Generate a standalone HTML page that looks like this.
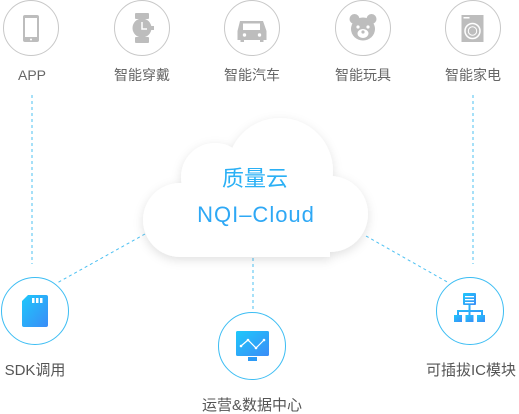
<!DOCTYPE html>
<html><head><meta charset="utf-8"><style>
html,body{margin:0;padding:0;background:#fff;width:519px;height:414px;overflow:hidden}
svg{display:block}
text{font-family:"Liberation Sans","Noto Sans CJK SC",sans-serif}
</style></head><body>
<svg width="519" height="414" viewBox="0 0 519 414" xmlns="http://www.w3.org/2000/svg">
<defs>
<linearGradient id="bg" x1="0" y1="0" x2="1" y2="1"><stop offset="0" stop-color="#1ec8fb"/><stop offset="1" stop-color="#3a8cf7"/></linearGradient>
<filter id="sh" x="-20%" y="-20%" width="140%" height="150%"><feDropShadow dx="0" dy="3" stdDeviation="5" flood-color="#000" flood-opacity="0.12"/></filter>
</defs>
<g fill="none" stroke="#c8c8c8" stroke-width="1">
<circle cx="31" cy="28" r="27.5"/><circle cx="142" cy="28" r="27.5"/><circle cx="252" cy="28" r="27.5"/><circle cx="363" cy="28" r="27.5"/><circle cx="473" cy="28" r="27.5"/>
</g>
<g fill="#bdbdbd">
<rect x="23" y="15" width="16" height="27" rx="2"/><rect x="25" y="18" width="12" height="19" fill="#fff"/><circle cx="31" cy="39.5" r="1" fill="#fff"/>
<rect x="135" y="13" width="14" height="6" rx="1"/><rect x="135" y="37" width="14" height="6" rx="1"/><circle cx="142" cy="28" r="9.5"/><rect x="150" y="26" width="4" height="4"/><path d="M142 22v7h5" stroke="#fff" stroke-width="1.5" fill="none"/>
<path d="M240 21h23l3.5 10v9h-3v2h-3.5v-2h-16v2h-3.5v-2h-3v-9z"/><rect x="243" y="23.5" width="17" height="6.5" fill="#fff"/><circle cx="244.5" cy="35" r="1.7" fill="#fff"/><circle cx="259.5" cy="35" r="1.7" fill="#fff"/>
<circle cx="354.5" cy="19" r="5"/><circle cx="371.5" cy="19" r="5"/><ellipse cx="363" cy="29" rx="12" ry="11.5"/><ellipse cx="363" cy="33.5" rx="5.5" ry="4.5" fill="#fff"/><circle cx="358" cy="27" r="1.6" fill="#fff"/><circle cx="368" cy="27" r="1.6" fill="#fff"/><circle cx="363" cy="32" r="1.6"/>
<rect x="461.5" y="15" width="22" height="27"/><circle cx="472.5" cy="31" r="7.5" fill="none" stroke="#fff" stroke-width="1.5"/><circle cx="472.5" cy="31" r="4.2" fill="none" stroke="#fff" stroke-width="1"/><rect x="463.5" y="17" width="6" height="1.5" fill="#fff"/>
</g>
<g fill="#666" font-size="14" text-anchor="middle">
<text x="32" y="80">APP</text><text x="142" y="80">智能穿戴</text><text x="252" y="80">智能汽车</text><text x="363" y="80">智能玩具</text><text x="473" y="80">智能家电</text>
</g>
<g stroke="#4cc0f2" stroke-width="1" stroke-dasharray="3,3" fill="none">
<line x1="32" y1="95" x2="32" y2="264"/><line x1="473" y1="95" x2="473" y2="264"/>
<line x1="145" y1="234" x2="57" y2="283"/><line x1="253" y1="258" x2="253" y2="311"/><line x1="366" y1="236" x2="449" y2="283"/>
</g>
<g fill="#fff" filter="url(#sh)">
<circle cx="280" cy="171" r="53"/><circle cx="215" cy="177" r="34"/><circle cx="180" cy="220" r="37"/><circle cx="330" cy="214" r="38"/><rect x="180" y="200" width="150" height="57"/>
</g>
<text x="255" y="186" font-size="22" fill="#2bb0f5" text-anchor="middle">质量云</text>
<text x="256" y="222" font-size="22" fill="#2ea8f5" text-anchor="middle" letter-spacing="1">NQI–Cloud</text>
<g fill="#fff" stroke="#3cbdf3" stroke-width="1">
<circle cx="35" cy="311" r="33.5"/><circle cx="252" cy="346" r="33.5"/><circle cx="470" cy="311" r="33.5"/>
</g>
<path d="M28 295h18a2 2 0 0 1 2 2v28a2 2 0 0 1-2 2h-22a2 2 0 0 1-2-2v-24z" fill="url(#bg)"/>
<rect x="32" y="298" width="2.5" height="5" fill="#fff"/><rect x="36" y="298" width="2.5" height="5" fill="#fff"/><rect x="40" y="298" width="2.5" height="5" fill="#fff"/>
<rect x="236" y="331" width="33" height="25" rx="1.5" fill="url(#bg)"/><rect x="248" y="357" width="9" height="4" fill="#2c9af6"/>
<polyline points="241,346 248,340 256,348 264,340" fill="none" stroke="#fff" stroke-width="1.2"/>
<g fill="#fff"><circle cx="241" cy="346" r="1.3"/><circle cx="248" cy="340" r="1.3"/><circle cx="256" cy="348" r="1.3"/><circle cx="264" cy="340" r="1.3"/></g>
<g fill="url(#bg)"><rect x="463" y="293" width="13" height="12" rx="1"/><rect x="468.5" y="305" width="2" height="6"/><rect x="457" y="310" width="26" height="2"/><rect x="457" y="310" width="2" height="6"/><rect x="468.5" y="310" width="2" height="6"/><rect x="481" y="310" width="2" height="6"/><rect x="454" y="315" width="8" height="7"/><rect x="465.5" y="315" width="8" height="7"/><rect x="477" y="315" width="8" height="7"/></g>
<g fill="#fff"><rect x="465" y="296" width="9" height="1.3"/><rect x="465" y="299" width="9" height="1.3"/><rect x="465" y="302" width="9" height="1.3"/></g>
<g fill="#555" font-size="15" text-anchor="middle">
<text x="35" y="375">SDK调用</text><text x="252" y="410">运营&amp;数据中心</text><text x="471" y="375">可插拔IC模块</text>
</g>
</svg>
</body></html>
